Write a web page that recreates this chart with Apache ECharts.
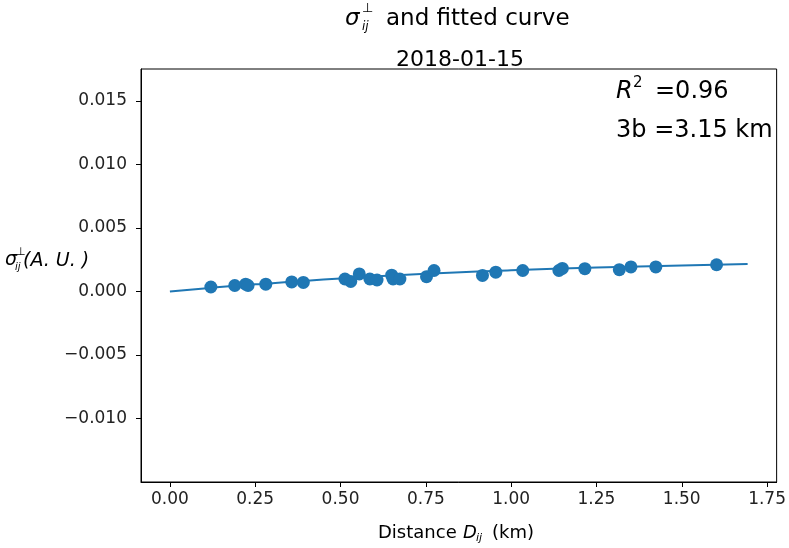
<!DOCTYPE html>
<html><head><meta charset="utf-8">
<script src="https://cdn.jsdelivr.net/npm/echarts@6/dist/echarts.min.js"></script>
<style>html,body{margin:0;padding:0;background:#fff}#c{width:789px;height:548px}</style>
</head><body><div id="c"></div>
<script>
// Scatter data: distance (km) and sigma (A.U.)
var distKm = [0.12,0.19,0.222,0.229,0.281,0.357,0.391,0.513,0.530,0.555,0.586,0.607,0.650,0.654,0.674,0.752,0.774,0.916,0.955,1.034,1.140,1.150,1.216,1.317,1.351,1.424,1.602];
var sigmaVals = [0.00035,0.00047,0.00057,0.00047,0.00057,0.00075,0.00071,0.00098,0.00079,0.00138,0.00098,0.0009,0.00128,0.00098,0.00098,0.00116,0.00165,0.00126,0.00152,0.00165,0.00165,0.00181,0.00179,0.00171,0.00193,0.00193,0.0021];
// Fitted curve
var fitX = [0,0.1,0.25,0.5,0.75,1.0,1.25,1.5,1.693];
var fitY = [0,0.00024,0.00056,0.00102,0.00139,0.00167,0.00189,0.00204,0.00215];
// Tick labels
var xTicks = [0,0.25,0.5,0.75,1.0,1.25,1.5,1.75];
var yTicks = [-0.010,-0.005,0,0.005,0.010,0.015];

var FF = '"DejaVu Sans", sans-serif';
var blue = '#1f77b4';
var scatterData = distKm.map(function(x,i){return [x, sigmaVals[i]];});
var fitData = fitX.map(function(x,i){return [x, fitY[i]];});

function fmtMinus(s){ return s.replace('-', '\u2212'); }

var chart = echarts.init(document.getElementById('c'), null, {renderer:'canvas'});
chart.setOption({
  animation:false,
  backgroundColor:'#fff',
  grid:{left:141, right:12, top:69, bottom:66, show:true, borderColor:'#000', borderWidth:1, backgroundColor:'transparent'},
  xAxis:{type:'value', min:-0.0847, max:1.778,
    axisLine:{show:true, onZero:false, lineStyle:{color:'#000', width:1}},
    axisTick:{show:true, length:5, lineStyle:{color:'#000'}, customValues:xTicks},
    axisLabel:{color:'#222', fontSize:17, fontFamily:FF, margin:9, customValues:xTicks,
      formatter:function(v){return fmtMinus(v.toFixed(2));}},
    splitLine:{show:false}},
  yAxis:{type:'value', min:-0.01499, max:0.0175,
    axisLine:{show:true, onZero:false, lineStyle:{color:'#000', width:1}},
    axisTick:{show:true, length:5, lineStyle:{color:'#000'}, customValues:yTicks},
    axisLabel:{color:'#222', fontSize:17, fontFamily:FF, margin:14, customValues:yTicks,
      formatter:function(v){return fmtMinus(v.toFixed(3));}},
    splitLine:{show:false}},
  series:[
    {type:'line', data:fitData, smooth:true, showSymbol:false, symbol:'none',
     lineStyle:{color:blue, width:2}, z:2},
    {type:'scatter', data:scatterData, symbolSize:13, itemStyle:{color:blue, opacity:1}, z:3}
  ],
  graphic:[
    // Title line 1
    {type:'text', x:345, y:19, style:{text:'\u03c3', fontSize:23, fontStyle:'italic', fontFamily:FF, fill:'#000', verticalAlign:'middle'}},
    {type:'text', x:362, y:9, style:{text:'\u22a5', fontSize:13, fontFamily:FF, fill:'#000', verticalAlign:'middle'}},
    {type:'text', x:362, y:27, style:{text:'ij', fontSize:12, fontStyle:'italic', fontFamily:FF, fill:'#000', verticalAlign:'middle'}},
    {type:'text', x:386, y:19, style:{text:'and fitted curve', fontSize:23, fontFamily:FF, fill:'#000', verticalAlign:'middle'}},
    // Title line 2
    {type:'text', x:460, y:60, style:{text:'2018-01-15', fontSize:22, fontFamily:FF, fill:'#000', align:'center', verticalAlign:'middle'}},
    // Annotations
    {type:'text', x:616, y:92, style:{text:'R', fontSize:24, fontStyle:'italic', fontFamily:FF, fill:'#000', verticalAlign:'middle'}},
    {type:'text', x:633, y:83, style:{text:'2', fontSize:15, fontFamily:FF, fill:'#000', verticalAlign:'middle'}},
    {type:'text', x:655, y:92, style:{text:'=0.96', fontSize:24, fontFamily:FF, fill:'#000', verticalAlign:'middle'}},
    {type:'text', x:616, y:131, style:{text:'3b =3.15 km', fontSize:24, fontFamily:FF, fill:'#000', verticalAlign:'middle'}},
    // Y axis label
    {type:'text', x:5, y:260, style:{text:'\u03c3', fontSize:19, fontStyle:'italic', fontFamily:FF, fill:'#000', verticalAlign:'middle'}},
    {type:'text', x:16, y:252, style:{text:'\u22a5', fontSize:11, fontFamily:FF, fill:'#000', verticalAlign:'middle'}},
    {type:'text', x:15, y:267, style:{text:'ij', fontSize:10, fontStyle:'italic', fontFamily:FF, fill:'#000', verticalAlign:'middle'}},
    {type:'text', x:23, y:261, style:{text:'(A. U. )', fontSize:19, fontStyle:'italic', fontFamily:FF, fill:'#000', verticalAlign:'middle'}},
    // X axis label
    {type:'text', x:378, y:533, style:{text:'Distance', fontSize:18, fontFamily:FF, fill:'#000', verticalAlign:'middle'}},
    {type:'text', x:463, y:533, style:{text:'D', fontSize:18, fontStyle:'italic', fontFamily:FF, fill:'#000', verticalAlign:'middle'}},
    {type:'text', x:476, y:538, style:{text:'ij', fontSize:11, fontStyle:'italic', fontFamily:FF, fill:'#000', verticalAlign:'middle'}},
    {type:'text', x:492, y:533, style:{text:'(km)', fontSize:18, fontFamily:FF, fill:'#000', verticalAlign:'middle'}}
  ]
});
</script></body></html>
